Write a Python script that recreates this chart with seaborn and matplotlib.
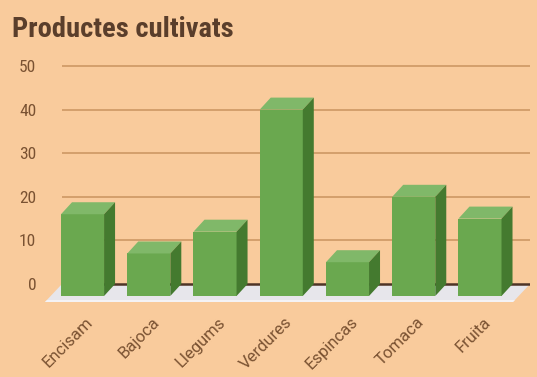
import matplotlib
matplotlib.use("Agg")
import matplotlib.pyplot as plt
import matplotlib.transforms as mtransforms
from matplotlib.patches import Polygon
from matplotlib import font_manager
import pandas as pd
import seaborn as sns

# ---- data -------------------------------------------------------------
categories = ["Encisam", "Bajoca", "Llegums", "Verdures", "Espincas", "Tomaca", "Fruita"]
values = [16, 7, 12, 40, 5, 20, 15]
y_ticks = [0, 10, 20, 30, 40, 50]
title = "Productes cultivats"

# ---- colours ----------------------------------------------------------
BG = "#F9CB9C"
FRONT = "#6AA84F"
TOP = "#80B869"
SIDE = "#447A2F"
GRID = "#C9935F"
ZERO = "#4E3426"
FLOOR = "#E7E6EB"
FLOOR_EDGE = "#F4F3F6"
TITLE_C = "#5A3E2B"
LABEL_C = "#7A5232"

installed = {f.name for f in font_manager.fontManager.ttflist}


def pick(*names):
    for n in names:
        if n in installed:
            return n
    return "DejaVu Sans"


sns.set_theme(style="white")
title_font = pick("Roboto Condensed", "Liberation Sans Narrow", "Roboto")
axis_font = pick("Roboto Condensed", "Roboto")
cat_font = pick("Roboto", "DejaVu Sans")
plt.rcParams["font.family"] = [axis_font, "DejaVu Sans"]

W, H, DPI = 537, 377, 100
fig = plt.figure(figsize=(W / DPI, H / DPI), dpi=DPI, facecolor=BG)

# plot frame (back plane), in pixels
left_px, right_px = 62, 530
ymin, ymax = -5, 51
zero_px = 284
px_per_unit = 4.36
top_px = zero_px - ymax * px_per_unit
bottom_px = zero_px - ymin * px_per_unit
ax = fig.add_axes([left_px / W, 1 - bottom_px / H,
                   (right_px - left_px) / W, (bottom_px - top_px) / H])
ax.set_facecolor("none")

df = pd.DataFrame({"producte": categories, "valor": values})
sns.barplot(data=df, x="producte", y="valor", color=FRONT, width=0.65,
            saturation=1, ax=ax, zorder=4, edgecolor="none", linewidth=0)

xlo, xhi = -0.31, 6.755
ax.set_xlim(xlo, xhi)
ax.set_ylim(ymin, ymax)
for s in ax.spines.values():
    s.set_visible(False)

# pixel -> data conversions
ux = (xhi - xlo) / (right_px - left_px)
uy = 1 / px_per_unit

# extruded depth of the bars
dx, dy = 11 * ux, 12 * uy

# floor
fdx, fdy = 17 * ux, 18 * uy
ax.add_patch(Polygon([(xlo, 0), (xhi, 0), (xhi - fdx, -fdy), (xlo - fdx, -fdy)],
                     closed=True, facecolor=FLOOR, edgecolor="none",
                     zorder=1, clip_on=False))
ax.add_patch(Polygon([(xlo - fdx + 2 * ux, -fdy + 2 * uy), (xhi - fdx + 2 * ux, -fdy + 2 * uy),
                      (xhi - fdx, -fdy), (xlo - fdx, -fdy)],
                     closed=True, facecolor=FLOOR_EDGE, edgecolor="none",
                     zorder=1, clip_on=False))

# gridlines and baseline
for t in y_ticks:
    if t == 0:
        ax.axhline(0, color=ZERO, lw=1.8, zorder=2)
    else:
        ax.axhline(t, color=GRID, lw=1.1, zorder=0)

# give each bar a top and a side face
for p in list(ax.patches):
    if p.get_facecolor()[:3] != matplotlib.colors.to_rgb(FRONT):
        continue
    x0, w, h = p.get_x(), p.get_width(), p.get_height()
    p.set_y(-dy)
    p.set_height(h + dy)
    p.set_clip_on(False)
    ax.add_patch(Polygon([(x0, h), (x0 + w, h), (x0 + w + dx, h + dy), (x0 + dx, h + dy)],
                         closed=True, facecolor=TOP, edgecolor="none",
                         zorder=4, clip_on=False))
    ax.add_patch(Polygon([(x0 + w, -dy), (x0 + w + dx, 0), (x0 + w + dx, h + dy), (x0 + w, h)],
                         closed=True, facecolor=SIDE, edgecolor="none",
                         zorder=4, clip_on=False))

# axes text
ax.set_xlabel("")
ax.set_ylabel("")
ax.set_yticks(y_ticks)
ax.set_yticklabels([str(t) for t in y_ticks])
ax.tick_params(axis="y", length=0, pad=18.5, labelsize=12.5, labelcolor=LABEL_C)
ax.set_xticks(range(len(categories)))
ax.set_xticklabels(categories)
ax.tick_params(axis="x", length=0, pad=10, labelsize=12, labelcolor=LABEL_C)
shift = mtransforms.ScaledTranslation(8 / DPI, 0, fig.dpi_scale_trans)
for lab in ax.get_xticklabels():
    lab.set_rotation(45)
    lab.set_ha("right")
    lab.set_va("center")
    lab.set_rotation_mode("anchor")
    lab.set_family([cat_font, "DejaVu Sans"])
    lab.set_transform(lab.get_transform() + shift)

fig.text(12 / W, 1 - 37 / H, title, ha="left", va="baseline",
         fontsize=20.5, fontweight="bold", color=TITLE_C,
         family=[title_font, "DejaVu Sans"])

fig.savefig("out.png", dpi=DPI, facecolor=BG)
